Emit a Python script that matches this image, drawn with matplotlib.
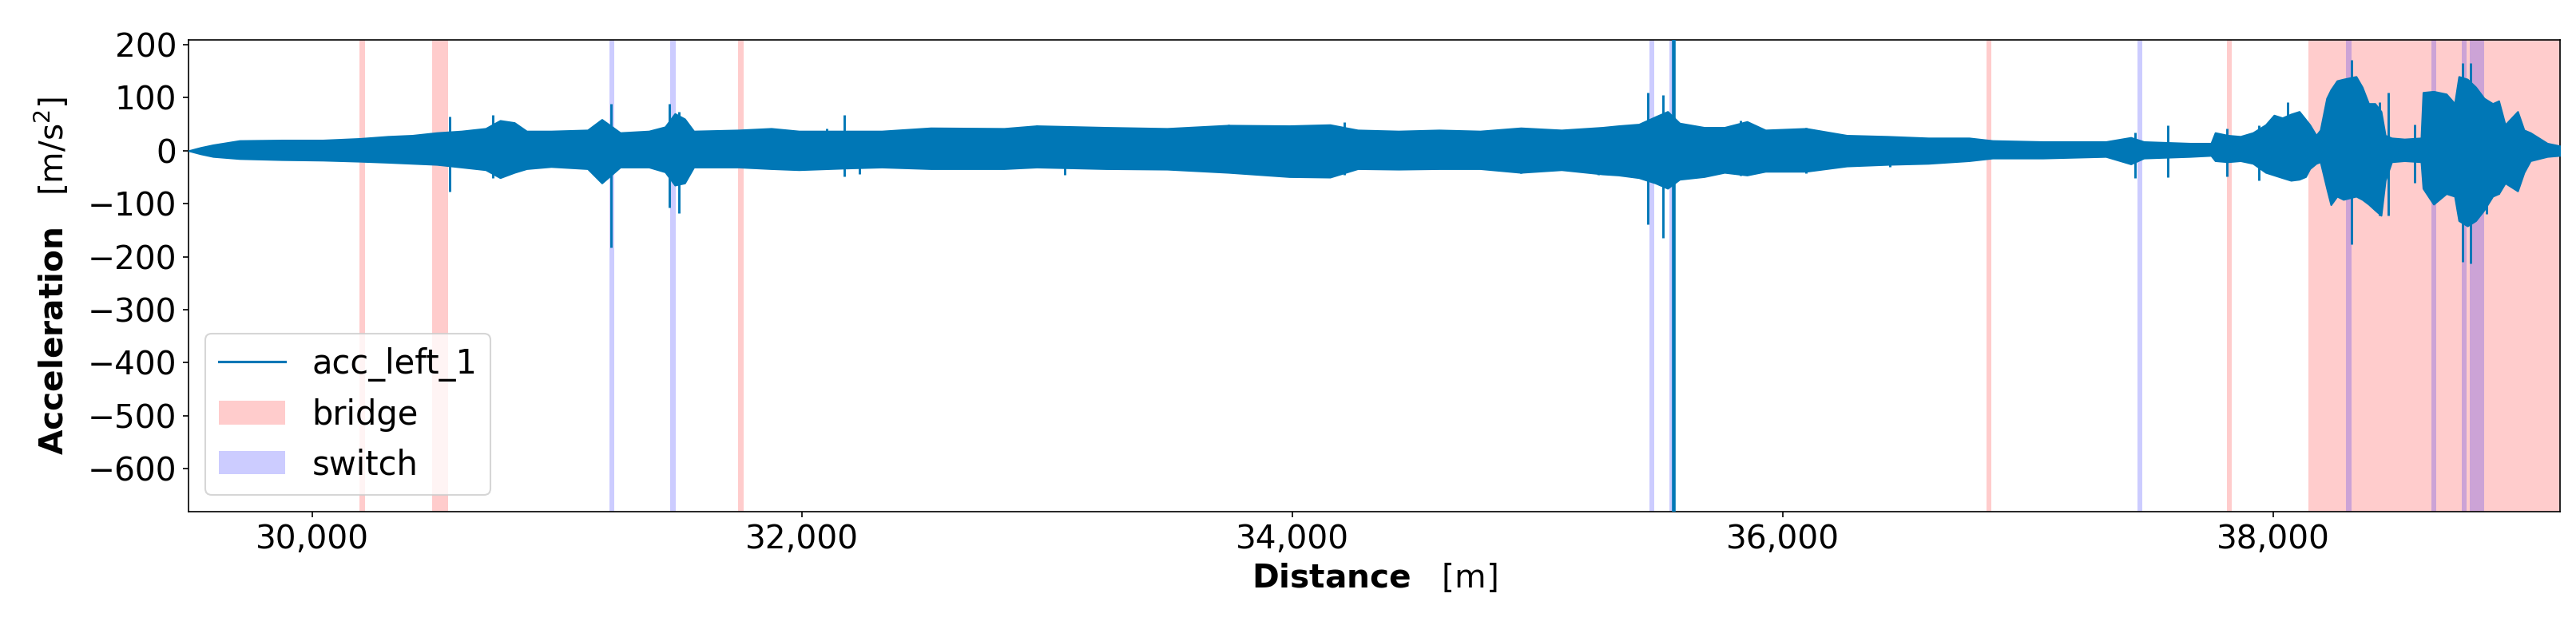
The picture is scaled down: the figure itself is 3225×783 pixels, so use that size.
import numpy as np
import matplotlib
matplotlib.use("Agg")
import matplotlib.pyplot as plt
from matplotlib.ticker import FuncFormatter

# envelope of the acc_left_1 signal (distance in m, acc in m/s^2)
env_dist = [29496, 29545, 29596, 29704, 29877, 30044, 30193, 30310, 30409, 30509,
            30609, 30708, 30767, 30825, 30875, 30975, 31124, 31182, 31257, 31374,
            31440, 31480, 31520, 31557, 31740, 31873, 31986, 32170, 32324, 32524,
            32823, 32956, 33239, 33488, 33738, 33987, 34153, 34266, 34432, 34598,
            34765, 34931, 35097, 35264, 35330, 35413, 35480, 35530, 35579, 35679,
            35762, 35854, 35929, 36095, 36261, 36427, 36594, 36760, 36856, 37061,
            37318, 37420, 37473, 37661, 37747, 37764, 37816, 37867, 37918, 37970,
            38004, 38038, 38073, 38107, 38133, 38150, 38176, 38193, 38219, 38236,
            38261, 38287, 38339, 38364, 38390, 38416, 38441, 38458, 38484, 38536,
            38604, 38612, 38655, 38707, 38741, 38758, 38793, 38827, 38861, 38896,
            38921, 38947, 38998, 39024, 39050, 39119, 39171]
env_upper = [0, 6, 11, 19, 20, 20, 23, 27, 29, 34,
             37, 42, 57, 53, 37, 37, 39, 59, 34, 37,
             45, 70, 60, 37, 39, 42, 37, 37, 37, 43,
             42, 47, 44, 42, 48, 47, 49, 39, 37, 39,
             37, 43, 39, 44, 47, 50, 64, 74, 52, 44,
             44, 55, 39, 42, 29, 27, 24, 24, 19, 17,
             17, 25, 17, 14, 14, 34, 29, 27, 34, 49,
             67, 62, 69, 74, 59, 49, 29, 39, 99, 115,
             132, 135, 140, 120, 89, 89, 74, 29, 24, 22,
             24, 110, 112, 107, 89, 140, 135, 120, 99, 89,
             94, 49, 74, 39, 34, 14, 9]
env_lower = [0, -6, -11, -15, -17, -18, -20, -22, -24, -26,
             -31, -36, -51, -41, -34, -30, -34, -61, -31, -31,
             -40, -65, -61, -31, -31, -34, -36, -33, -31, -34,
             -34, -31, -34, -35, -41, -49, -50, -34, -35, -34,
             -34, -41, -36, -44, -46, -51, -61, -71, -54, -49,
             -41, -46, -39, -39, -29, -26, -24, -19, -14, -14,
             -11, -25, -14, -11, -9, -19, -21, -19, -24, -41,
             -46, -51, -56, -54, -49, -34, -24, -21, -71, -102,
             -86, -92, -86, -92, -101, -112, -122, -56, -21, -19,
             -21, -71, -101, -81, -86, -132, -142, -132, -112, -86,
             -81, -61, -76, -41, -19, -11, -9]

# single spikes in the signal
spike_dist = [30562, 30738, 31221, 31457, 31498, 32100, 32170, 32233, 32956, 33069,
              33738, 33987, 34148, 34211, 34931, 35247, 35450, 35510, 35829, 36095,
              36436, 37438, 37572, 37812, 37941, 38059, 38321, 38433, 38471, 38579,
              38772, 38807, 38870, 38921]
spike_hi = [65, 68, 89, 89, 74, 42, 67, 30, 48, 30,
            49, 47, 49, 54, 44, 40, 110, 105, 57, 43,
            27, 34, 48, 42, 48, 92, 171, 92, 110, 49,
            165, 165, 95, 94]
spike_lo = [-77, -51, -182, -107, -118, -34, -49, -44, -31, -46,
            -41, -49, -50, -45, -42, -45, -139, -164, -47, -42,
            -30, -51, -50, -49, -56, -54, -177, -122, -122, -61,
            -210, -212, -120, -81]
# the one reading that runs off both ends of the axis
big_dist = [35554]
big_hi = [900]
big_lo = [-900]

# bridge and switch sections (start, end) in m
bridge_start = [30193, 30491, 31739, 36832, 37811, 38143]
bridge_end = [30217, 30556, 31759, 36852, 37831, 39200]
switch_start = [31213, 31462, 35455, 35538, 37447, 38299, 38646, 38771, 38804]
switch_end = [31233, 31485, 35477, 35556, 37468, 38319, 38665, 38789, 38863]

x_ticks = [30000, 32000, 34000, 36000, 38000]
y_ticks = [200, 100, 0, -100, -200, -300, -400, -500, -600]

cor = "#0077b6"
fs = 19.5

fig = plt.figure(figsize=(21.5, 5.22), dpi=150)
ax = fig.add_subplot(111)
fig.subplots_adjust(left=0.0732, right=0.9938, top=0.9361, bottom=0.1814)

# sinal (por cima das faixas)
ax.fill_between(env_dist, env_lower, env_upper, color=cor, linewidth=1.0, zorder=3)
ax.vlines(spike_dist, spike_lo, spike_hi, color=cor, linewidth=1.4, zorder=3)
ax.vlines(big_dist, big_lo, big_hi, color=cor, linewidth=2.2, zorder=3)
ax.plot([], [], color=cor, linewidth=1.5, label="acc_left_1")

# trechos de ponte e aparelho de mudanca de via
for i in range(len(bridge_start)):
    ax.axvspan(bridge_start[i], bridge_end[i], color="red", alpha=0.2, lw=0, zorder=1,
               label="bridge" if i == 0 else None)
for i in range(len(switch_start)):
    ax.axvspan(switch_start[i], switch_end[i], color="blue", alpha=0.2, lw=0, zorder=1,
               label="switch" if i == 0 else None)

ax.set_xlim(29496, 39171)
ax.set_ylim(-681, 209)
ax.set_xticks(x_ticks)
ax.set_yticks(y_ticks)
ax.xaxis.set_major_formatter(FuncFormatter(lambda v, p: f"{v:,.0f}"))
ax.tick_params(labelsize=fs)

ax.set_xlabel(r"$\bf{Distance}$   [m]", fontsize=fs)
ax.set_ylabel(r"$\bf{Acceleration}$   [m/s$^2$]", fontsize=fs, labelpad=10)

leg = ax.legend(loc="lower left", fontsize=20)
leg.set_zorder(5)

plt.savefig("out.png", dpi=150)
